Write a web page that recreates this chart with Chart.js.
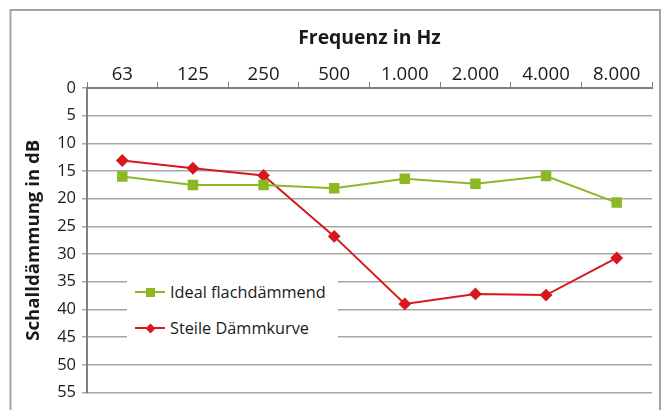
<!DOCTYPE html>
<html><head><meta charset="utf-8">
<script src="https://cdn.jsdelivr.net/npm/chart.js@4.4.1/dist/chart.umd.min.js"></script>
<style>
html,body{margin:0;padding:0;background:#fff;}
#wrap{position:relative;width:662px;height:410px;overflow:hidden;}
canvas{position:absolute;left:0;top:0;}
#legend{position:absolute;left:127px;top:272px;width:211px;height:74px;background:#fff;font-family:'Open Sans',sans-serif;font-size:16.3px;color:#1a1a1a;}
.item{position:absolute;left:8px;height:20px;display:flex;align-items:center;white-space:nowrap;}
.sample{position:relative;width:30px;height:20px;margin-right:5px;}
.sample .ln{position:absolute;left:0;right:0;top:9px;height:2px;}
.sample .mk{position:absolute;}
</style></head>
<body><div id="wrap"><canvas id="c" width="662" height="410"></canvas><div id="legend"></div></div>
<script>
const categories = ['63', '125', '250', '500', '1.000', '2.000', '4.000', '8.000'];
const idealValues = [16.0, 17.5, 17.5, 18.1, 16.4, 17.3, 15.9, 20.7];
const steileValues = [13.1, 14.5, 15.8, 26.8, 39.0, 37.2, 37.4, 30.7];
const seriesNames = ['Ideal flachdämmend', 'Steile Dämmkurve'];
const seriesColors = ['#8cb823', '#d7181f'];
const yMin = 0, yMax = 55, yStep = 5;
const xTitle = 'Frequenz in Hz';
const yTitle = 'Schalldämmung in dB';

const FONT = "'Open Sans', sans-serif";
const TXT = '#1a1a1a';

const framePlugin = {
  id: 'frame',
  beforeDraw(chart) {
    const ctx = chart.ctx;
    ctx.save();
    ctx.strokeStyle = '#a3a3a3';
    ctx.lineWidth = 2;
    ctx.strokeRect(10.5, 10, 649.5, 500);
    ctx.restore();
  }
};

new Chart(document.getElementById('c'), {
  type: 'line',
  data: {
    labels: categories,
    datasets: [
      { label: seriesNames[0], data: idealValues, borderColor: seriesColors[0], backgroundColor: seriesColors[0],
        borderWidth: 2, pointStyle: 'rect', pointRadius: 6, pointHoverRadius: 6, tension: 0, fill: false },
      { label: seriesNames[1], data: steileValues, borderColor: seriesColors[1], backgroundColor: seriesColors[1],
        borderWidth: 2, pointStyle: 'rectRot', pointRadius: 5, pointHoverRadius: 5, tension: 0, fill: false }
    ]
  },
  options: {
    responsive: false,
    devicePixelRatio: 1,
    animation: false,
    layout: { padding: { left: 10, top: 10, right: 10, bottom: 17.5 } },
    plugins: { legend: { display: false }, tooltip: { enabled: false } },
    scales: {
      x: {
        type: 'category',
        position: 'top',
        offset: true,
        afterFit(s) { s.height = 78; },
        grid: { offset: true, drawOnChartArea: false, drawTicks: true, tickLength: 6, color: '#7f7f7f', lineWidth: 1 },
        border: { color: '#7f7f7f', width: 2 },
        ticks: { font: { family: FONT, size: 18.6 }, color: TXT, padding: -4, maxRotation: 0, autoSkip: false },
        title: { display: true, text: xTitle, color: TXT, font: { family: FONT, size: 19.4, weight: 'bold' }, padding: { top: 17, bottom: 0 } }
      },
      y: {
        min: yMin, max: yMax, reverse: true,
        afterFit(s) { s.width = 77; },
        ticks: { stepSize: yStep, font: { family: FONT, size: 16.5 }, color: TXT, padding: 6 },
        grid: { color: '#a6a6a6', lineWidth: 1.5, tickLength: 5 },
        border: { color: '#7f7f7f', width: 2 },
        title: { display: true, text: yTitle, color: TXT, font: { family: FONT, size: 18.6, weight: 'bold' }, padding: { top: 13, bottom: 0 } }
      }
    }
  },
  plugins: [framePlugin]
});

// HTML legend built from the series arrays
const legend = document.getElementById('legend');
const rowTops = [10, 46];
seriesNames.forEach((name, i) => {
  const item = document.createElement('div');
  item.className = 'item';
  item.style.top = rowTops[i] + 'px';
  const sample = document.createElement('div');
  sample.className = 'sample';
  const ln = document.createElement('div');
  ln.className = 'ln';
  ln.style.background = seriesColors[i];
  const mk = document.createElement('div');
  mk.className = 'mk';
  mk.style.background = seriesColors[i];
  if (i === 0) {
    mk.style.width = '9px'; mk.style.height = '9px'; mk.style.left = '10.5px'; mk.style.top = '5.5px';
  } else {
    mk.style.width = '7px'; mk.style.height = '7px'; mk.style.left = '11.5px'; mk.style.top = '6.5px';
    mk.style.transform = 'rotate(45deg)';
  }
  sample.appendChild(ln); sample.appendChild(mk);
  const t = document.createElement('span');
  t.textContent = name;
  item.appendChild(sample); item.appendChild(t);
  legend.appendChild(item);
});
</script>
</body></html>
